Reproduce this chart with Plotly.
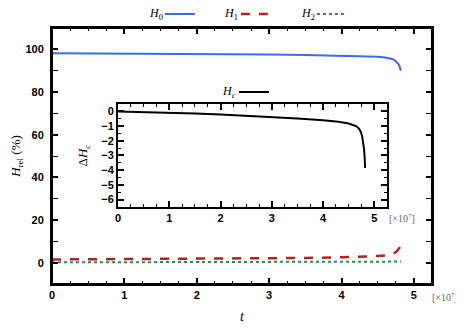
import plotly.graph_objects as go

# time in units of 1e7
t = [0, 0.5, 1, 1.5, 2, 2.5, 3, 3.5, 4, 4.25, 4.5, 4.6, 4.65, 4.7, 4.73, 4.76, 4.78, 4.8, 4.81, 4.82]
H0 = [98.2, 98.15, 98.1, 98.0, 97.9, 97.8, 97.6, 97.4, 97.1, 96.9, 96.5, 96.2, 95.9, 95.5, 95.0, 94.2, 93.4, 92.2, 91.2, 90.0]
H1 = [1.5, 1.55, 1.6, 1.65, 1.75, 1.85, 2.0, 2.2, 2.5, 2.7, 3.1, 3.4, 3.7, 4.1, 4.5, 5.2, 5.9, 6.9, 7.7, 8.6]
H2 = [0.15, 0.15, 0.15, 0.15, 0.16, 0.16, 0.17, 0.18, 0.2, 0.21, 0.23, 0.25, 0.26, 0.28, 0.3, 0.33, 0.36, 0.4, 0.45, 0.5]
Hc = [0, -0.03, -0.07, -0.14, -0.22, -0.3, -0.39, -0.48, -0.6, -0.68, -0.82, -0.92, -1.02, -1.18, -1.35, -1.65, -2.0, -2.6, -3.1, -3.85]
t_ticks = [0, 1, 2, 3, 4, 5]
h_ticks = [0, 20, 40, 60, 80, 100]
dh_ticks = [0, -1, -2, -3, -4, -5, -6]

tick_font = dict(family="Liberation Sans", size=11, color="black", weight="bold")
serif = "Liberation Serif"

fig = go.Figure()
fig.add_trace(go.Scatter(x=t, y=H0, mode="lines", name="", legend="legend", showlegend=True,
                         line=dict(color="#3d6be0", width=2)))
fig.add_trace(go.Scatter(x=t, y=H1, mode="lines", name="", legend="legend2", showlegend=True,
                         line=dict(color="#b22222", width=2.5, dash="dash")))
fig.add_trace(go.Scatter(x=t, y=H2, mode="lines", name="", legend="legend3", showlegend=True,
                         line=dict(color="#2e8b57", width=2, dash="dot")))
fig.add_trace(go.Scatter(x=t, y=Hc, mode="lines", name="", legend="legend4", showlegend=True,
                         xaxis="x2", yaxis="y2",
                         line=dict(color="black", width=2)))
# top tick axis carrying the same series invisibly so the axis is drawn
fig.add_trace(go.Scatter(x=t, y=H0, mode="lines", xaxis="x3", yaxis="y", showlegend=False,
                         hoverinfo="skip", line=dict(color="rgba(0,0,0,0)", width=0)))

axis_common = dict(showline=True, linecolor="black", linewidth=2, mirror="allticks",
                   ticks="inside", ticklen=6, tickwidth=1.5, tickcolor="black",
                   showgrid=False, zeroline=False, tickfont=tick_font)
minor_t = dict(ticks="inside", dtick=0.25, tick0=0, ticklen=3, tickcolor="black", tickwidth=1.2)

leg_common = dict(xanchor="left", yanchor="middle", orientation="h",
                  bgcolor="rgba(0,0,0,0)", itemwidth=30)

main_x = dict(axis_common, mirror=True)

# page body has an 8px margin: figure is 8px smaller and shifted
fig.update_layout(
    width=456, height=322,
    showlegend=True,
    margin=dict(l=44, r=32, t=20, b=46, autoexpand=False),
    paper_bgcolor="white", plot_bgcolor="white",
    xaxis=dict(range=[0, 5.25], tickvals=t_ticks, domain=[0, 1], minor=minor_t,
               title=dict(text="<i>t</i>", font=dict(family=serif, size=14, color="black"), standoff=11),
               **main_x),
    xaxis3=dict(range=[0, 5.25], tickvals=t_ticks, overlaying="x", side="top", anchor="y",
                showticklabels=False, showline=True, linecolor="black", linewidth=2,
                showgrid=False, zeroline=False,
                ticks="inside", ticklen=6, tickwidth=1.5, tickcolor="black", minor=minor_t),
    yaxis=dict(range=[-10, 110], tickvals=h_ticks, domain=[0, 1], ticklabelstandoff=4,
               minor=dict(ticks="inside", dtick=10, tick0=0, ticklen=3, tickcolor="black", tickwidth=1.2),
               title=dict(text="<i>H</i><sub>rel</sub> (%)", font=dict(family=serif, size=13, color="black"), standoff=6),
               **axis_common),
    xaxis2=dict(range=[0, 5.25], tickvals=t_ticks, domain=[0.174, 0.882], anchor="y2", minor=minor_t,
                **axis_common),
    yaxis2=dict(range=[-6.5, 0.5], tickvals=dh_ticks, domain=[0.301, 0.703], anchor="x2",
                minor=dict(ticks="inside", dtick=0.5, tick0=0, ticklen=3, tickcolor="black", tickwidth=1.2),
                title=dict(text="Δ<i>H<sub>c</sub></i>", font=dict(family=serif, size=13, color="black"), standoff=11),
                **axis_common),
    legend=dict(x=0.284, y=1.055, **leg_common),
    legend2=dict(x=0.484, y=1.055, **leg_common),
    legend3=dict(x=0.684, y=1.055, **leg_common),
    legend4=dict(x=0.479, y=0.75, **leg_common),
)

# plot frame
fig.add_shape(type="rect", xref="x domain", yref="y domain", x0=0, x1=1, y0=0, y1=1,
              line=dict(color="black", width=2), fillcolor="rgba(0,0,0,0)", layer="above")

lab_font = dict(family=serif, size=12, color="black")
for txt, x, y in [("<i>H</i><sub>0</sub>", 0.297, 1.055), ("<i>H</i><sub>1</sub>", 0.495, 1.055),
                  ("<i>H</i><sub>2</sub>", 0.697, 1.055), ("<i>H<sub>c</sub></i>", 0.489, 0.75)]:
    fig.add_annotation(text=txt, x=x, y=y, xref="paper", yref="paper", xanchor="right",
                       yanchor="middle", showarrow=False, font=lab_font)

exp_font = dict(family=serif, size=10, color="#666666")
fig.add_annotation(text="[×10<sup>7</sup>]", x=0.995, y=-0.051, xref="paper", yref="paper",
                   xanchor="left", yanchor="middle", showarrow=False, font=exp_font)
fig.add_annotation(text="[×10<sup>7</sup>]", x=0.882, y=0.258, xref="paper", yref="paper",
                   xanchor="left", yanchor="middle", showarrow=False, font=exp_font)

fig.write_html("out.html")
